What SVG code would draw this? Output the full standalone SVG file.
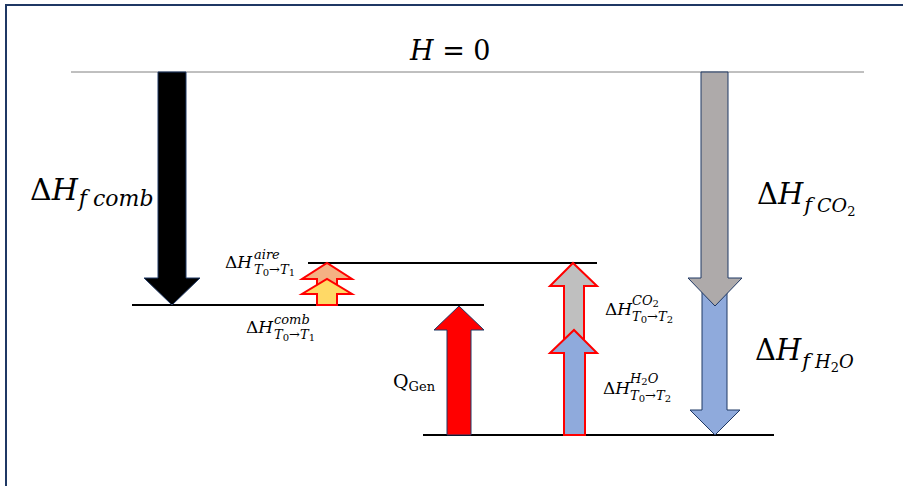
<svg xmlns="http://www.w3.org/2000/svg" width="903" height="486" viewBox="0 0 903 486">
<style>
.t{font-family:"DejaVu Serif","Liberation Serif",serif;fill:#000}
.i{font-style:italic}
.lvl{stroke:#000;stroke-width:2}
.red{stroke:#FF0000;stroke-width:2}
.nav{stroke:#1F3864;stroke-width:1}
</style>
<rect x="0" y="0" width="903" height="486" fill="#fff"/>
<rect x="6" y="5" width="920" height="500" fill="none" stroke="#1F3864" stroke-width="2"/>
<g id="level-H0"><line x1="71" y1="72" x2="864" y2="72" stroke="#808080" stroke-width="1"/>
<text class="t" x="410" y="60" font-size="27"><tspan class="i">H</tspan> = 0</text></g>
<g id="level-T1"><line class="lvl" x1="132" y1="305" x2="484" y2="305"/></g>
<g id="level-aire"><line class="lvl" x1="308" y1="263" x2="597" y2="263"/></g>
<g id="level-products"><line class="lvl" x1="423" y1="435" x2="774" y2="435"/></g>
<g id="connectors">
<polygon id="a-comb" class="nav" fill="#000" points="158,72 186,72 186,278 200,278 172,305 144,278 158,278"/>
<polygon id="a-h2o-f" class="nav" fill="#8FAADC" points="702,290 727,290 727,410 740,410 715,435 690,410 702,410"/>
<polygon id="a-co2-f" class="nav" fill="#AEAAAA" points="701,72 728,72 728,278 742,278 715,306 688,278 701,278"/>
<polygon id="a-qgen" class="nav" fill="#FF0000" points="447,435 471,435 471,330 484,330 459,306 434,330 447,330"/>
<polygon id="a-aire" class="red" fill="#F4B183" points="317,292 337,292 337,279 352,279 327,263 302,279 317,279"/>
<polygon id="a-comb-T" class="red" fill="#FFD966" points="317,305 337,305 337,294 352,294 327,279 302,294 317,294"/>
<polygon id="a-co2-T" class="red" fill="#BFBFBF" points="564,345 584,345 584,286 597,286 573,263 550,286 564,286"/>
<polygon id="a-h2o-T" class="red" fill="#8FAADC" points="564,435 585,435 585,353 597,353 574,330 550,353 564,353"/>
</g>
<g id="lbl-fcomb"><text class="t" x="30" y="200" font-size="30">Δ<tspan class="i">H</tspan><tspan class="i" font-size="22" dx="1" dy="6">f</tspan><tspan class="i" font-size="22" dx="6">comb</tspan></text></g>
<g id="lbl-fco2"><text class="t" x="757" y="204" font-size="29">Δ<tspan class="i">H</tspan><tspan class="i" font-size="21" dx="1" dy="8">f</tspan><tspan class="i" font-size="19" dx="5">CO</tspan><tspan font-size="13" dy="4">2</tspan></text></g>
<g id="lbl-fh2o"><text class="t" x="755" y="360" font-size="29">Δ<tspan class="i">H</tspan><tspan class="i" font-size="21" dx="1" dy="8">f</tspan><tspan class="i" font-size="18" dx="5">H</tspan><tspan font-size="13" dy="4">2</tspan><tspan class="i" font-size="18" dy="-4">O</tspan></text></g>
<g id="lbl-qgen"><text class="t" x="393" y="388" font-size="19">Q<tspan font-size="13" dy="3">Gen</tspan></text></g>
<g id="lbl-aire"><text class="t" x="225" y="268" font-size="17">Δ<tspan class="i">H</tspan></text>
<text class="t i" x="254" y="259" font-size="13">aire</text>
<text class="t i" x="254" y="274" font-size="13">T<tspan font-style="normal" font-size="10" dy="2">0</tspan><tspan font-style="normal" dy="-2">→</tspan>T<tspan font-style="normal" font-size="10" dy="2">1</tspan></text></g>
<g id="lbl-comb"><text class="t" x="246" y="333" font-size="17">Δ<tspan class="i">H</tspan></text>
<text class="t i" x="274" y="324" font-size="13">comb</text>
<text class="t i" x="274" y="339" font-size="13">T<tspan font-style="normal" font-size="10" dy="2">0</tspan><tspan font-style="normal" dy="-2">→</tspan>T<tspan font-style="normal" font-size="10" dy="2">1</tspan></text></g>
<g id="lbl-co2T"><text class="t" x="605" y="315" font-size="17">Δ<tspan class="i">H</tspan></text>
<text class="t i" x="632" y="305" font-size="13">CO<tspan font-style="normal" font-size="10" dy="2">2</tspan></text>
<text class="t i" x="632" y="321" font-size="13">T<tspan font-style="normal" font-size="10" dy="2">0</tspan><tspan font-style="normal" dy="-2">→</tspan>T<tspan font-style="normal" font-size="10" dy="2">2</tspan></text></g>
<g id="lbl-h2oT"><text class="t" x="603" y="394" font-size="17">Δ<tspan class="i">H</tspan></text>
<text class="t i" x="630" y="383" font-size="13">H<tspan font-style="normal" font-size="10" dy="2">2</tspan><tspan dy="-2">O</tspan></text>
<text class="t i" x="630" y="400" font-size="13">T<tspan font-style="normal" font-size="10" dy="2">0</tspan><tspan font-style="normal" dy="-2">→</tspan>T<tspan font-style="normal" font-size="10" dy="2">2</tspan></text></g>
</svg>
